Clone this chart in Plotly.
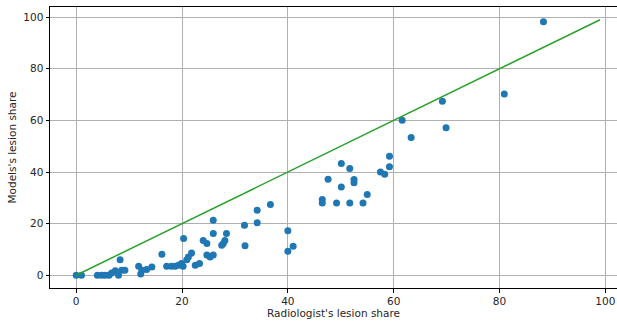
import plotly.graph_objects as go

radiologist_share = [0, 1, 4, 4.8, 5.5, 6.2, 6.7, 7.4, 8, 8.3, 8.6, 9.2,
                     11.8, 12.2, 12.4, 13.3, 14.3, 16.2, 17.1, 18, 18.7, 19.3,
                     19.9, 20.2, 20.3, 20.9, 21.2, 21.8, 22.5, 23.3, 24, 24.7,
                     24.7, 25.3, 25.9, 25.9, 25.9, 27.5, 27.8, 28.1, 28.4,
                     31.8, 31.9, 34.2, 34.2, 36.7, 40, 40, 41, 46.5, 46.5,
                     47.6, 49.2, 50.1, 50.1, 51.7, 51.7, 52.5, 52.5, 54.2, 55,
                     57.5, 58.3, 59.2, 59.2, 61.6, 63.3, 69.2, 69.9, 80.9, 88.3]
model_share = [0, 0, 0, 0, 0, 0, 0.9, 1.7, 0, 6, 1.9, 1.9,
               3.5, 0.5, 1.9, 2.2, 3.2, 8.1, 3.5, 3.5, 3.5, 3.9,
               4.5, 3.5, 14.2, 6, 7.1, 8.6, 3.9, 4.5, 13.5, 12.3,
               7.8, 7.1, 7.8, 21.3, 16.2, 11.6, 12.3, 13.5, 16.2,
               19.4, 11.4, 20.3, 25.2, 27.4, 17.2, 9.3, 11.2, 29.3, 28,
               37.2, 28, 34.2, 43.3, 41.4, 28, 37.1, 35.8, 28, 31.3,
               40, 39.1, 42, 46.1, 60.1, 53.4, 67.4, 57.2, 70.2, 98.2]
identity_line = [0, 99]

x_ticks = [0, 20, 40, 60, 80, 100]
y_ticks = [0, 20, 40, 60, 80, 100]

fig = go.Figure()
fig.add_trace(go.Scatter(x=radiologist_share, y=model_share, mode="markers",
                         marker=dict(color="#1f77b4", size=7, line=dict(width=0)),
                         showlegend=False))
fig.add_trace(go.Scatter(x=identity_line, y=identity_line, mode="lines",
                         line=dict(color="#2ca02c", width=1.5),
                         showlegend=False))

txt_font = dict(family="DejaVu Sans", size=10.5, color="#262626")

axis_common = dict(
    showgrid=True, gridcolor="#b0b0b0", gridwidth=0.8,
    zeroline=False, showline=True, linecolor="#000000", linewidth=1,
    ticks="outside", ticklen=3.5, tickwidth=0.8, tickcolor="#000000",
    tickfont=txt_font,
    automargin=False,
)

fig.update_layout(
    width=617, height=324,
    margin=dict(l=50, r=0, t=7, b=36),
    paper_bgcolor="white", plot_bgcolor="white",
    font=txt_font,
    xaxis=dict(range=[-4.95, 102.2], tickvals=x_ticks, mirror=True,
               title=dict(text="Radiologist's lesion share", standoff=2, font=txt_font),
               **axis_common),
    yaxis=dict(range=[-4.95, 103.95], tickvals=y_ticks,
               title=dict(text="Models's lesion share", standoff=4, font=txt_font),
               **axis_common),
)

fig.write_html("out.html",
               config={"displayModeBar": False},
               post_script="document.body.style.margin='0';document.body.style.overflow='hidden';")
